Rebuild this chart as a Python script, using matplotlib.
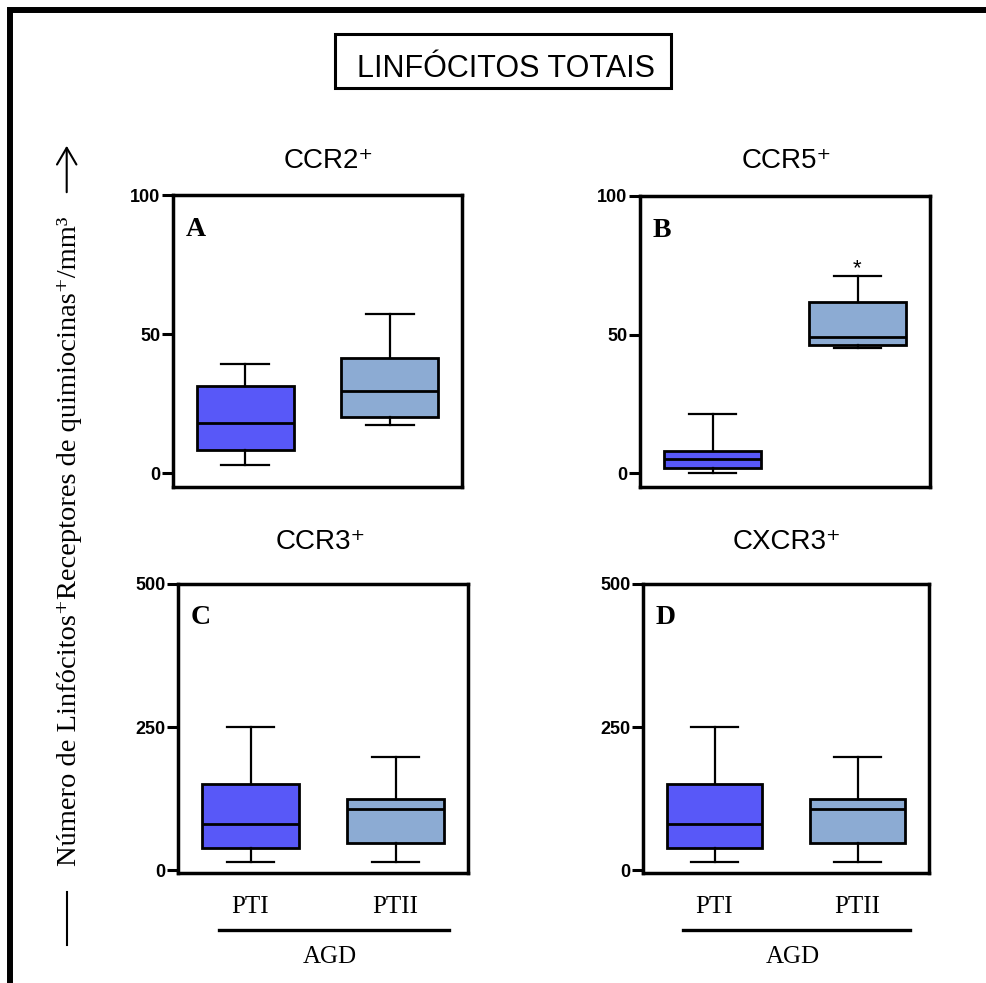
import matplotlib.pyplot as plt
from matplotlib.patches import Rectangle, FancyArrowPatch
from matplotlib.lines import Line2D

grupos = ['PTI', 'PTII']
ccr2_pti = [2.9, 8.3, 18.1, 31.4, 39.3]
ccr2_ptii = [17.3, 20.0, 29.4, 41.4, 57.2]
ccr5_pti = [0.0, 1.7, 5.0, 8.0, 21.4]
ccr5_ptii = [45.1, 46.3, 49.0, 61.6, 71.0]
ccr3_pti = [14, 38, 80, 151, 250]
ccr3_ptii = [14, 48, 106, 125, 197]
cxcr3_pti = [14, 38, 80, 151, 250]
cxcr3_ptii = [14, 48, 106, 125, 197]

cores = ['#5858F8', '#8CABD3']
sans = ['Liberation Sans', 'DejaVu Sans']
serif = ['Liberation Serif', 'DejaVu Serif']

W, H = 986, 983
fig = plt.figure(figsize=(W / 100, H / 100), dpi=100)


def fx(x):
    return x / W


def fy(y):
    return 1 - y / H


def painel(pos, dados, ylim, ticks, letra, titulo, tpos, rotulos=False, asterisco=False):
    left, top, right, bottom = pos
    ax = fig.add_axes([fx(left), fy(bottom), fx(right - left), (bottom - top) / H])
    stats = [dict(whislo=d[0], q1=d[1], med=d[2], q3=d[3], whishi=d[4], label=g)
             for d, g in zip(dados, grupos)]
    b = ax.bxp(stats, positions=[1, 2], widths=0.67, capwidths=0.33,
               patch_artist=True, showfliers=False,
               boxprops=dict(linewidth=2, edgecolor='black'),
               medianprops=dict(color='black', linewidth=2),
               whiskerprops=dict(color='black', linewidth=1.6),
               capprops=dict(color='black', linewidth=1.6))
    for p, c in zip(b['boxes'], cores):
        p.set_facecolor(c)
    ax.set_xlim(0.5, 2.5)
    ax.set_ylim(*ylim)
    ax.set_xticks([])
    ax.set_yticks(ticks, [str(t) for t in ticks], fontweight='bold',
                  family=sans, fontsize=13)
    ax.tick_params(axis='y', length=8, width=2.2, pad=1)
    for s in ax.spines.values():
        s.set_linewidth(2.5)
    ax.text(0.045, 0.86, letra, transform=ax.transAxes, va='baseline',
            fontsize=20, fontweight='bold', family=serif)
    fig.text(fx(tpos[0]), fy(tpos[1]), titulo, ha='center', va='baseline',
             fontsize=20, family=sans)
    if asterisco:
        ax.text(2, dados[1][4] + 0.8, '*', ha='center', va='baseline',
                fontsize=16, family=sans)
    if rotulos:
        tr = ax.get_xaxis_transform()
        for i, g in enumerate(grupos):
            ax.text(i + 1, -0.137, g, transform=tr, ha='center', va='baseline',
                    fontsize=18, family=serif)
        ax.add_line(Line2D([0.78, 2.37], [-0.197, -0.197], transform=tr,
                           color='black', linewidth=2.4, clip_on=False))
        ax.text(1.55, -0.31, 'AGD', transform=tr, ha='center', va='baseline',
                fontsize=18, family=serif)
    return ax


painel((173, 195, 462, 487), [ccr2_pti, ccr2_ptii], (-5, 100), [0, 50, 100],
       'A', 'CCR2⁺', (329, 168))
painel((640, 196, 930, 487), [ccr5_pti, ccr5_ptii], (-5, 100), [0, 50, 100],
       'B', 'CCR5⁺', (787, 168), asterisco=True)
painel((178, 584, 468, 873), [ccr3_pti, ccr3_ptii], (-5, 500), [0, 250, 500],
       'C', 'CCR3⁺', (321, 549), rotulos=True)
painel((643, 584, 929, 873), [cxcr3_pti, cxcr3_ptii], (-5, 500), [0, 250, 500],
       'D', 'CXCR3⁺', (787, 549), rotulos=True)

# titulo geral com moldura
fig.add_artist(Rectangle((fx(335), fy(88)), fx(671 - 335), (88 - 34) / H,
                         transform=fig.transFigure, fill=False,
                         edgecolor='black', linewidth=2.2))
fig.text(fx(506), fy(76.7), 'LINFÓCITOS TOTAIS', ha='center', va='baseline',
         fontsize=22, family=sans)

# eixo y comum
fig.text(fx(70), fy(541), 'Número de Linfócitos⁺Receptores de quimiocinas⁺/mm³',
         rotation=90, ha='center', va='center', fontsize=20.5, family=serif)
fig.add_artist(FancyArrowPatch((fx(66.7), fy(195)), (fx(66.7), fy(143)),
                               transform=fig.transFigure,
                               arrowstyle='->,head_length=0.6,head_width=0.35',
                               mutation_scale=20, linewidth=1.5, color='black'))
fig.add_artist(Line2D([fx(66.7), fx(66.7)], [fy(892), fy(945)],
                      transform=fig.transFigure, color='black', linewidth=1.5))

# borda superior e esquerda
fig.add_artist(Line2D([fx(10.3), fx(10.3), fx(986)], [fy(983), fy(10.3), fy(10.3)],
                      transform=fig.transFigure, color='black', linewidth=4.3,
                      solid_joinstyle='miter'))

fig.savefig('out.png', dpi=100)
